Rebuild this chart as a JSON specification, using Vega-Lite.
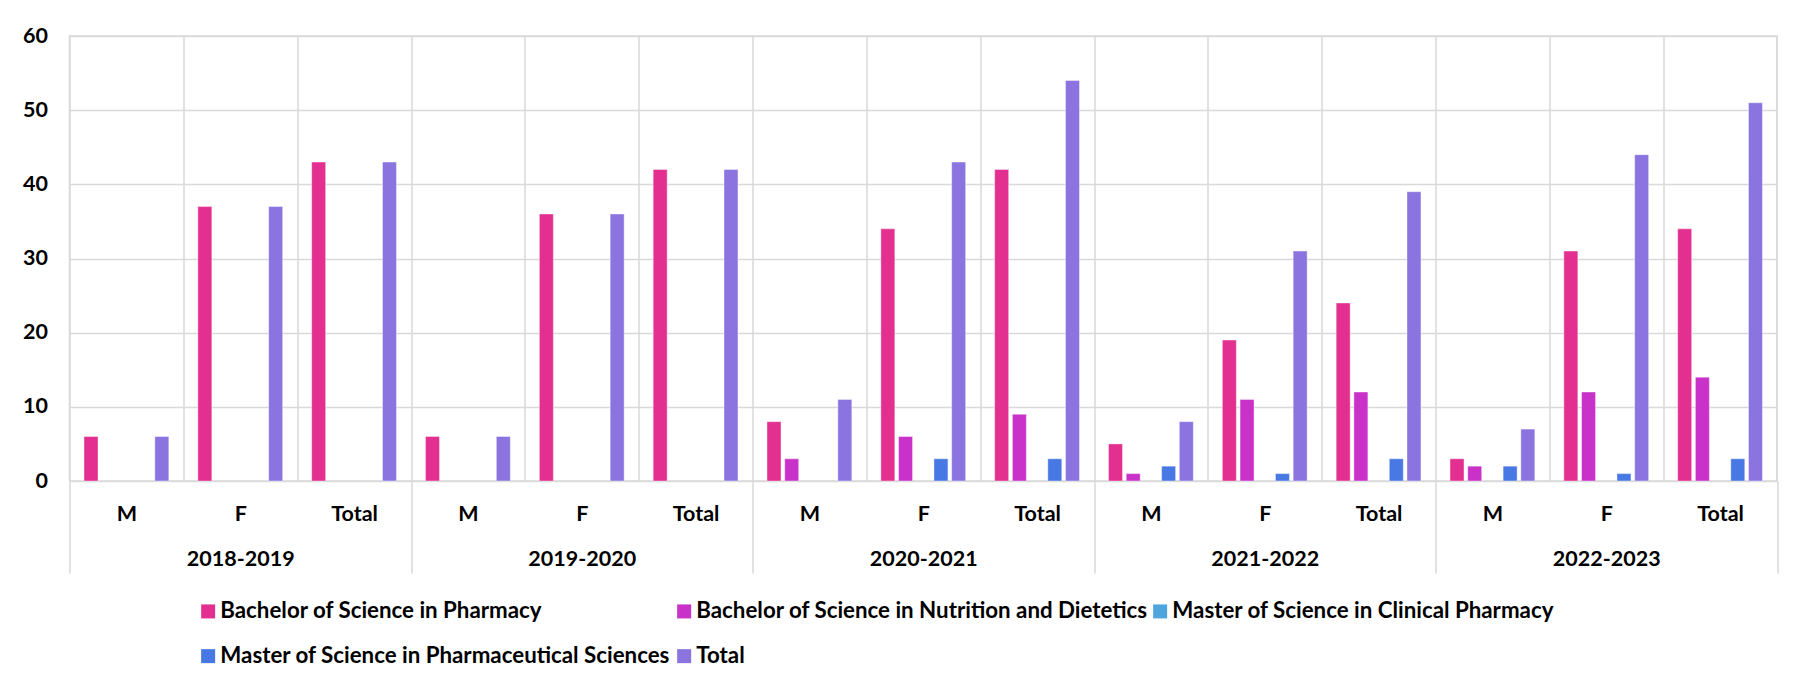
{
  "$schema": "https://vega.github.io/schema/vega-lite/v6.json",
  "autosize": "none",
  "width": 1707.5,
  "height": 445,
  "padding": {"left": 69.5, "top": 36, "right": 21, "bottom": 203},
  "background": "white",
  "config": {
    "font": "Lato",
    "view": {"stroke": "#d9d9d9", "strokeWidth": 1.5},
    "axis": {"labelFont": "Lato", "labelFontWeight": "bold", "labelFontSize": 21.5, "labelColor": "#000000", "domain": false, "title": null}
  },
  "data": {
    "values": [
      {"year": "2018-2019", "sex": "M", "program": "Bachelor of Science in Pharmacy", "value": 6},
      {"year": "2018-2019", "sex": "M", "program": "Total", "value": 6},
      {"year": "2018-2019", "sex": "F", "program": "Bachelor of Science in Pharmacy", "value": 37},
      {"year": "2018-2019", "sex": "F", "program": "Total", "value": 37},
      {"year": "2018-2019", "sex": "Total", "program": "Bachelor of Science in Pharmacy", "value": 43},
      {"year": "2018-2019", "sex": "Total", "program": "Total", "value": 43},
      {"year": "2019-2020", "sex": "M", "program": "Bachelor of Science in Pharmacy", "value": 6},
      {"year": "2019-2020", "sex": "M", "program": "Total", "value": 6},
      {"year": "2019-2020", "sex": "F", "program": "Bachelor of Science in Pharmacy", "value": 36},
      {"year": "2019-2020", "sex": "F", "program": "Total", "value": 36},
      {"year": "2019-2020", "sex": "Total", "program": "Bachelor of Science in Pharmacy", "value": 42},
      {"year": "2019-2020", "sex": "Total", "program": "Total", "value": 42},
      {"year": "2020-2021", "sex": "M", "program": "Bachelor of Science in Pharmacy", "value": 8},
      {"year": "2020-2021", "sex": "M", "program": "Bachelor of Science in Nutrition and Dietetics", "value": 3},
      {"year": "2020-2021", "sex": "M", "program": "Total", "value": 11},
      {"year": "2020-2021", "sex": "F", "program": "Bachelor of Science in Pharmacy", "value": 34},
      {"year": "2020-2021", "sex": "F", "program": "Bachelor of Science in Nutrition and Dietetics", "value": 6},
      {"year": "2020-2021", "sex": "F", "program": "Master of Science in Pharmaceutical Sciences", "value": 3},
      {"year": "2020-2021", "sex": "F", "program": "Total", "value": 43},
      {"year": "2020-2021", "sex": "Total", "program": "Bachelor of Science in Pharmacy", "value": 42},
      {"year": "2020-2021", "sex": "Total", "program": "Bachelor of Science in Nutrition and Dietetics", "value": 9},
      {"year": "2020-2021", "sex": "Total", "program": "Master of Science in Pharmaceutical Sciences", "value": 3},
      {"year": "2020-2021", "sex": "Total", "program": "Total", "value": 54},
      {"year": "2021-2022", "sex": "M", "program": "Bachelor of Science in Pharmacy", "value": 5},
      {"year": "2021-2022", "sex": "M", "program": "Bachelor of Science in Nutrition and Dietetics", "value": 1},
      {"year": "2021-2022", "sex": "M", "program": "Master of Science in Pharmaceutical Sciences", "value": 2},
      {"year": "2021-2022", "sex": "M", "program": "Total", "value": 8},
      {"year": "2021-2022", "sex": "F", "program": "Bachelor of Science in Pharmacy", "value": 19},
      {"year": "2021-2022", "sex": "F", "program": "Bachelor of Science in Nutrition and Dietetics", "value": 11},
      {"year": "2021-2022", "sex": "F", "program": "Master of Science in Pharmaceutical Sciences", "value": 1},
      {"year": "2021-2022", "sex": "F", "program": "Total", "value": 31},
      {"year": "2021-2022", "sex": "Total", "program": "Bachelor of Science in Pharmacy", "value": 24},
      {"year": "2021-2022", "sex": "Total", "program": "Bachelor of Science in Nutrition and Dietetics", "value": 12},
      {"year": "2021-2022", "sex": "Total", "program": "Master of Science in Pharmaceutical Sciences", "value": 3},
      {"year": "2021-2022", "sex": "Total", "program": "Total", "value": 39},
      {"year": "2022-2023", "sex": "M", "program": "Bachelor of Science in Pharmacy", "value": 3},
      {"year": "2022-2023", "sex": "M", "program": "Bachelor of Science in Nutrition and Dietetics", "value": 2},
      {"year": "2022-2023", "sex": "M", "program": "Master of Science in Pharmaceutical Sciences", "value": 2},
      {"year": "2022-2023", "sex": "M", "program": "Total", "value": 7},
      {"year": "2022-2023", "sex": "F", "program": "Bachelor of Science in Pharmacy", "value": 31},
      {"year": "2022-2023", "sex": "F", "program": "Bachelor of Science in Nutrition and Dietetics", "value": 12},
      {"year": "2022-2023", "sex": "F", "program": "Master of Science in Pharmaceutical Sciences", "value": 1},
      {"year": "2022-2023", "sex": "F", "program": "Total", "value": 44},
      {"year": "2022-2023", "sex": "Total", "program": "Bachelor of Science in Pharmacy", "value": 34},
      {"year": "2022-2023", "sex": "Total", "program": "Bachelor of Science in Nutrition and Dietetics", "value": 14},
      {"year": "2022-2023", "sex": "Total", "program": "Master of Science in Pharmaceutical Sciences", "value": 3},
      {"year": "2022-2023", "sex": "Total", "program": "Total", "value": 51}
    ]
  },
  "transform": [{"calculate": "datum.year + '|' + datum.sex", "as": "cat"}],
  "layer": [
    {
      "mark": {"type": "bar", "stroke": "#ffffff", "strokeOpacity": 0.5, "strokeWidth": 0.8},
      "encoding": {
        "x": {
          "field": "cat",
          "type": "nominal",
          "scale": {
            "domain": ["2018-2019|M", "2018-2019|F", "2018-2019|Total", "2019-2020|M", "2019-2020|F", "2019-2020|Total", "2020-2021|M", "2020-2021|F", "2020-2021|Total", "2021-2022|M", "2021-2022|F", "2021-2022|Total", "2022-2023|M", "2022-2023|F", "2022-2023|Total"],
            "paddingInner": 0,
            "paddingOuter": 0
          },
          "axis": {
            "orient": "bottom",
            "labelExpr": "split(datum.value, '|')[1]",
            "labelAngle": 0,
            "labelPadding": 22,
            "ticks": false,
            "grid": true,
            "tickBand": "extent",
            "gridColor": "#d9d9d9",
            "gridWidth": 1.5
          }
        },
        "xOffset": {
          "field": "program",
          "type": "nominal",
          "scale": {
            "domain": ["Bachelor of Science in Pharmacy", "Bachelor of Science in Nutrition and Dietetics", "Master of Science in Clinical Pharmacy", "Master of Science in Pharmaceutical Sciences", "Total"],
            "paddingInner": 0.21,
            "paddingOuter": 0.82
          }
        },
        "y": {
          "field": "value",
          "type": "quantitative",
          "scale": {"domain": [0, 60]},
          "axis": {
            "values": [0, 10, 20, 30, 40, 50, 60],
            "ticks": false,
            "labelPadding": 22,
            "grid": true,
            "gridColor": "#d9d9d9",
            "gridWidth": 1.5
          }
        },
        "color": {
          "field": "program",
          "type": "nominal",
          "scale": {
            "domain": ["Bachelor of Science in Pharmacy", "Bachelor of Science in Nutrition and Dietetics", "Master of Science in Clinical Pharmacy", "Master of Science in Pharmaceutical Sciences", "Total"],
            "range": ["#e32f8f", "#c832c8", "#4ea5de", "#4878e3", "#8b74e0"]
          },
          "legend": {
            "orient": "none",
            "direction": "horizontal",
            "legendX": 127.5,
            "legendY": 564,
            "title": null,
            "columns": 3,
            "gridAlign": "all",
            "columnPadding": 0,
            "rowPadding": 22,
            "symbolType": "square",
            "symbolSize": 196,
            "symbolStrokeWidth": 0,
            "symbolOpacity": 1,
            "labelFont": "Lato",
            "labelFontSize": 22.3,
            "labelFontWeight": "bold",
            "labelColor": "#000000",
            "labelOffset": 1,
            "labelLimit": 1000,
            "padding": 0
          }
        }
      }
    },
    {
      "mark": {"type": "rule", "opacity": 0},
      "encoding": {
        "x": {
          "field": "year",
          "type": "nominal",
          "scale": {"paddingInner": 0, "paddingOuter": 0},
          "axis": {
            "orient": "bottom",
            "labelAngle": 0,
            "labelPadding": -25,
            "ticks": true,
            "tickBand": "extent",
            "tickSize": 92,
            "tickColor": "#d9d9d9",
            "tickWidth": 1.5,
            "grid": false
          }
        }
      }
    }
  ],
  "resolve": {"scale": {"x": "independent"}, "axis": {"x": "independent"}}
}
